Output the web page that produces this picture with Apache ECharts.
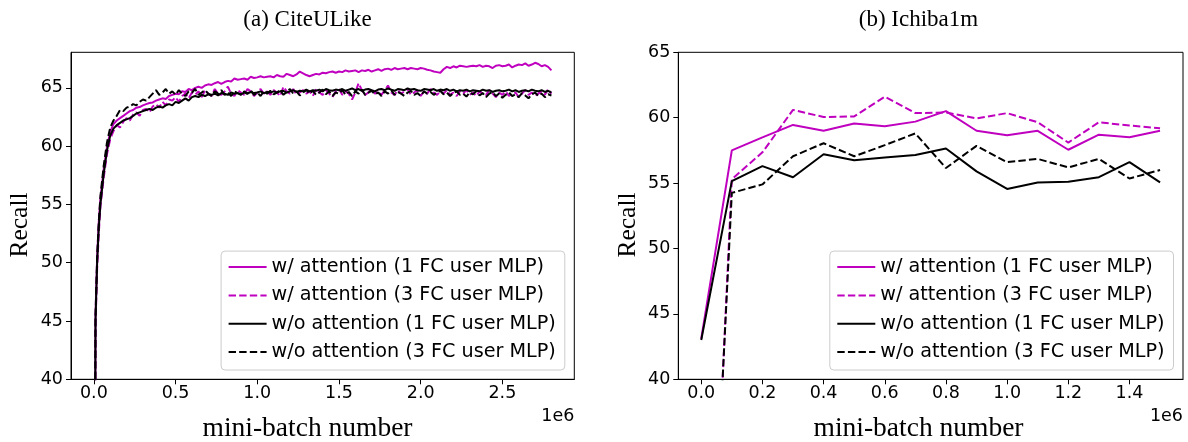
<!DOCTYPE html>
<html><head><meta charset="utf-8">
<script src="https://cdn.jsdelivr.net/npm/echarts@6/dist/echarts.min.js"></script>
<style>html,body{margin:0;padding:0;background:#fff}#c{width:1188px;height:442px}</style>
</head><body><div id="c"></div>
<script>
const seriesNames = ['w/ attention (1 FC user MLP)', 'w/ attention (3 FC user MLP)', 'w/o attention (1 FC user MLP)', 'w/o attention (3 FC user MLP)'];
const titles = ['(a) CiteULike', '(b) Ichiba1m'];
const yName = 'Recall';
const xName = 'mini-batch number';
const offsetText = '1e6';

// CiteULike: first points at these mini-batch numbers, then every 20000 up to 2.8e6
const citeEarlyX = [0, 10000, 20000, 30000, 40000, 60000, 80000, 100000];
const citeRegularStart = 120000, citeRegularStep = 20000;

const citeAtt1 = [0, 45.5, 50.5, 53.5, 55.5, 58, 59.9, 61.2,
 61.9, 62.2, 62.4, 62.6, 62.8, 63.0, 63.1, 63.3, 63.35, 63.5,
 63.6, 63.7, 63.75, 63.9, 64.0, 64.1, 64.05, 64.3, 64.4, 64.5,
 64.45, 64.7, 64.65, 64.9, 64.8, 65.0, 65.1, 65.0, 65.2, 65.3,
 65.25, 65.4, 65.5, 65.35, 65.5, 65.6, 65.55, 65.8, 65.7, 65.75,
 65.8, 65.7, 65.95, 65.85, 65.9, 66.0, 65.9, 65.95, 66.0, 65.9,
 66.1, 66.0, 65.95, 66.2, 66.1, 66.0, 66.15, 66.4, 66.25, 66.1,
 66.0, 66.1, 66.2, 66.15, 66.3, 66.25, 66.35, 66.4, 66.3, 66.4,
 66.35, 66.5, 66.4, 66.45, 66.5, 66.35, 66.5, 66.45, 66.55, 66.4,
 66.5, 66.6, 66.45, 66.6, 66.65, 66.55, 66.7, 66.6, 66.65, 66.7,
 66.6, 66.7, 66.65, 66.6, 66.7, 66.65, 66.55, 66.5, 66.4, 66.35,
 66.3, 66.6, 66.8, 66.7, 66.85, 66.75, 66.9, 66.85, 66.8, 66.85,
 66.9, 66.85, 66.95, 66.8, 66.9, 66.85, 66.7, 66.9, 66.95, 66.85,
 66.9, 67.0, 66.75, 66.9, 67.0, 66.95, 67.1, 66.9, 67.0, 67.15,
 67.05, 66.85, 66.95, 66.8, 66.5];

const citeAtt3 = [0, 44.5, 49.5, 52.5, 54.8, 57.3, 59.3, 60.6,
 61.3, 61.8, 61.6, 62.1, 62.4, 62.2, 62.7, 62.9, 62.6, 63.1,
 63.2, 62.9, 63.4, 63.6, 63.3, 63.8, 63.5, 64.0, 63.9, 64.2,
 63.8, 64.3, 64.5, 64.1, 64.6, 64.4, 64.7, 64.2, 64.8, 64.5,
 64.3, 64.9, 64.5, 64.4, 64.7, 65.1, 64.5, 64.3, 64.8, 64.6,
 64.4, 64.9, 64.7, 64.3, 64.6, 64.9, 64.5, 64.7, 64.4, 64.8,
 64.6, 64.3, 65.1, 64.7, 64.5, 64.9, 64.4, 64.6, 64.8, 64.5,
 64.7, 64.3, 64.9, 64.6, 64.4, 64.8, 64.5, 64.2, 64.7, 64.9,
 64.4, 64.7, 64.5, 64.0, 64.6, 65.4, 64.8, 64.4, 64.6, 64.9,
 64.5, 64.7, 64.4, 64.8, 65.2, 64.6, 64.4, 64.8, 64.5, 64.7,
 64.9, 64.4, 64.6, 64.8, 64.3, 64.7, 64.5, 64.9, 64.6, 64.4,
 64.7, 64.5, 64.8, 64.4, 64.6, 64.3, 64.7, 64.5, 64.8, 64.4,
 64.6, 64.3, 64.7, 64.5, 64.4, 64.8, 64.5, 64.2, 64.6, 64.4,
 64.7, 64.3, 64.5, 64.6, 64.2, 64.5, 64.8, 64.4, 64.6, 64.3,
 64.5, 64.7, 64.4, 64.9, 64.5];

const citeNoAtt1 = [0, 45, 50, 53, 55, 57.6, 59.6, 60.9,
 61.5, 61.8, 62.0, 62.2, 62.3, 62.4, 62.6, 62.8, 62.9, 63.0,
 63.1, 63.2, 63.1, 63.3, 63.4, 63.3, 63.5, 63.6, 63.5, 63.8,
 63.7, 63.9, 64.1, 63.9, 64.2, 64.3, 64.2, 64.4, 64.3, 64.45,
 64.4, 64.5, 64.35, 64.55, 64.5, 64.4, 64.6, 64.5, 64.55, 64.45,
 64.6, 64.5, 64.65, 64.55, 64.6, 64.7, 64.55, 64.65, 64.6, 64.7,
 64.6, 64.7, 64.75, 64.6, 64.7, 64.8, 64.65, 64.75, 64.7, 64.85,
 64.7, 64.8, 64.75, 64.85, 64.7, 64.9, 64.8, 64.75, 64.85, 64.8,
 64.9, 64.75, 64.85, 64.95, 64.8, 64.9, 64.75, 64.85, 64.9, 64.8,
 64.7, 64.85, 64.9, 64.8, 64.95, 64.85, 64.75, 64.9, 64.85, 64.8,
 64.95, 64.85, 64.9, 64.8, 64.75, 64.9, 64.85, 64.8, 64.9, 64.75,
 64.85, 64.8, 64.9, 64.75, 64.85, 64.7, 64.8, 64.75, 64.85, 64.7,
 64.8, 64.75, 64.7, 64.85, 64.75, 64.8, 64.65, 64.75, 64.8, 64.7,
 64.75, 64.85, 64.7, 64.8, 64.65, 64.75, 64.8, 64.7, 64.85, 64.75,
 64.7, 64.8, 64.65, 64.75, 64.6];

const citeNoAtt3 = [0, 45.5, 50.5, 53.5, 55.7, 58.3, 60.3, 61.6,
 62.2, 62.6, 63.1, 63.0, 63.3, 63.4, 63.6, 63.5, 63.8, 64.0,
 63.9, 64.2, 64.5, 64.8, 64.4, 64.6, 64.9, 64.5, 64.7, 64.4,
 64.8, 64.5, 64.3, 64.7, 64.6, 64.9, 64.4, 64.6, 64.8, 64.5,
 64.3, 64.7, 64.5, 64.8, 64.4, 64.6, 64.3, 64.7, 64.55, 64.4,
 64.7, 64.5, 64.8, 64.4, 64.6, 64.3, 64.7, 64.5, 64.75, 64.45,
 64.6, 64.8, 64.4, 64.65, 64.9, 64.5, 64.7, 64.35, 64.6, 64.8,
 64.5, 64.75, 64.4, 64.6, 64.85, 64.45, 64.7, 64.3, 64.6, 64.5,
 64.8, 64.4, 64.65, 64.3, 64.7, 64.5, 64.85, 64.4, 64.6, 64.75,
 64.45, 64.6, 64.3, 64.7, 64.5, 64.8, 64.4, 64.65, 64.5, 64.3,
 64.6, 64.75, 64.4, 64.55, 64.3, 64.7, 64.5, 64.65, 64.4, 64.6,
 64.75, 64.45, 64.6, 64.3, 64.55, 64.7, 64.4, 64.5, 64.25, 64.6,
 64.45, 64.7, 64.35, 64.55, 64.2, 64.5, 64.65, 64.3, 64.5, 64.15,
 64.4, 64.6, 64.3, 64.45, 64.2, 64.55, 64.35, 64.1, 64.45, 64.6,
 64.3, 64.5, 64.2, 64.45, 64.35];

// Ichiba1m
const ichibaX = [0, 100000, 200000, 300000, 400000, 500000, 600000, 700000, 800000, 900000, 1000000, 1100000, 1200000, 1300000, 1400000, 1500000];
const ichibaAtt1 = [43.1, 57.5, 58.5, 59.45, 59.0, 59.55, 59.35, 59.7, 60.5, 59.0, 58.65, 59.0, 57.55, 58.7, 58.5, 59.0];
const ichibaAtt3 = [4.5, 55.3, 57.35, 60.6, 60.05, 60.1, 61.6, 60.35, 60.4, 59.95, 60.35, 59.65, 58.1, 59.65, 59.4, 59.2];
const ichibaNoAtt1 = [43.0, 55.15, 56.3, 55.45, 57.2, 56.75, 56.95, 57.15, 57.65, 55.9, 54.55, 55.05, 55.1, 55.45, 56.6, 55.05];
const ichibaNoAtt3 = [7, 54.25, 54.9, 57.05, 58.05, 57.05, 57.9, 58.8, 56.15, 57.85, 56.6, 56.85, 56.2, 56.85, 55.35, 56.0];

// tick labels
const citeXTicks = [0, 500000, 1000000, 1500000, 2000000, 2500000];
const ichibaXTicks = [0, 200000, 400000, 600000, 800000, 1000000, 1200000, 1400000];
const recallTicks = [40, 45, 50, 55, 60, 65];

const MAG = '#bf00bf';
const DASH = [7.4, 3.2];
const styles = [
  {color: MAG, type: 'solid'},
  {color: MAG, type: DASH},
  {color: '#000000', type: 'solid'},
  {color: '#000000', type: DASH}
];

function citeXAt(i) {
  return i < citeEarlyX.length ? citeEarlyX[i] : citeRegularStart + (i - citeEarlyX.length) * citeRegularStep;
}
function pairsCite(vals) { return vals.map((v, i) => [citeXAt(i), v]); }
function pairsIchiba(vals) { return vals.map((v, i) => [ichibaX[i], v]); }

const citeSeries = [citeAtt1, citeAtt3, citeNoAtt1, citeNoAtt3];
const ichibaSeries = [ichibaAtt1, ichibaAtt3, ichibaNoAtt1, ichibaNoAtt3];

const TICK_FONT = {fontFamily: '"DejaVu Sans"', fontSize: 17.5, color: '#000'};
const SERIF = '"Liberation Serif", "DejaVu Serif", serif';

function xAxisCfg(grid, min, max, ticks) {
  return {
    type: 'value', gridIndex: grid, min: min, max: max,
    axisLine: {show: true, onZero: false, lineStyle: {color: '#000', width: 1}},
    axisTick: {show: true, length: 5, lineStyle: {color: '#000', width: 1}, customValues: ticks},
    axisLabel: Object.assign({customValues: ticks, margin: 5, formatter: v => (v / 1e6).toFixed(1)}, TICK_FONT),
    splitLine: {show: false}
  };
}
function yAxisCfg(grid, min, max, ticks) {
  return {
    type: 'value', gridIndex: grid, min: min, max: max,
    axisLine: {show: true, onZero: false, lineStyle: {color: '#000', width: 1}},
    axisTick: {show: true, length: 5, lineStyle: {color: '#000', width: 1}, customValues: ticks},
    axisLabel: Object.assign({customValues: ticks, margin: 8, formatter: v => String(v)}, TICK_FONT),
    splitLine: {show: false}
  };
}

const series = [];
citeSeries.forEach((vals, k) => series.push({
  type: 'line', name: seriesNames[k], xAxisIndex: 0, yAxisIndex: 0, data: pairsCite(vals),
  symbol: 'none', showSymbol: false, clip: true, animation: false,
  lineStyle: {color: styles[k].color, width: 2, type: styles[k].type},
  itemStyle: {color: styles[k].color}, emphasis: {disabled: true}
}));
ichibaSeries.forEach((vals, k) => series.push({
  type: 'line', name: seriesNames[k], xAxisIndex: 1, yAxisIndex: 1, data: pairsIchiba(vals),
  symbol: 'none', showSymbol: false, clip: true, animation: false,
  lineStyle: {color: styles[k].color, width: 2, type: styles[k].type},
  itemStyle: {color: styles[k].color}, emphasis: {disabled: true}
}));

function legendCfg(right) {
  return {
    data: seriesNames, orient: 'vertical', right: right, bottom: 72,
    itemWidth: 38, itemHeight: 14, itemGap: 8.3,
    padding: [6, 9, 8, 6.5],
    borderColor: '#cccccc', borderWidth: 1, borderRadius: 4,
    backgroundColor: 'rgba(255,255,255,0.8)',
    selectedMode: false,
    itemStyle: {opacity: 0, borderWidth: 0},
    lineStyle: {width: 2},
    textStyle: {fontFamily: '"DejaVu Sans"', fontSize: 19.2, color: '#000', lineHeight: 20}
  };
}

const G = [{left: 71, top: 52.3, width: 503.3, height: 327}, {left: 678.3, top: 52.3, width: 504.7, height: 327}];
// text centres measured on the reference (subfigure captions and labels sit a little left of the axes centre)
const textCx = [307.5, 918.5];

function txt(x, y, text, size, rot) {
  const o = {type: 'text', x: x, y: y, silent: true,
    style: {text: text, fontFamily: SERIF, fontSize: size, fill: '#000', align: 'center', verticalAlign: 'middle'}};
  if (rot) o.rotation = rot;
  return o;
}
function offTxt(x, y) {
  return {type: 'text', x: x, y: y, silent: true,
    style: {text: offsetText, fontFamily: '"DejaVu Sans"', fontSize: 17.5, fill: '#000', align: 'right', verticalAlign: 'middle'}};
}

const option = {
  animation: false,
  backgroundColor: '#fff',
  grid: G.map(g => Object.assign({show: true, borderColor: '#000', borderWidth: 1, backgroundColor: 'transparent', containLabel: false}, g)),
  xAxis: [xAxisCfg(0, -140000, 2940000, citeXTicks), xAxisCfg(1, -75000, 1575000, ichibaXTicks)],
  yAxis: [yAxisCfg(0, 40, 68.05, recallTicks), yAxisCfg(1, 40, 65, recallTicks)],
  legend: [legendCfg(1188 - (G[0].left + G[0].width) + 9.5), legendCfg(1188 - (G[1].left + G[1].width) + 9.5)],
  series: series,
  graphic: [
    txt(textCx[0], 19.5, titles[0], 23),
    txt(textCx[1], 19.5, titles[1], 23),
    txt(textCx[0], 428.5, xName, 27.5),
    txt(textCx[1], 428.5, xName, 27.5),
    txt(20, 225, yName, 25.5, Math.PI / 2),
    txt(628.3, 225, yName, 25.5, Math.PI / 2),
    offTxt(G[0].left + G[0].width, 416.5),
    offTxt(G[1].left + G[1].width, 416.5)
  ]
};

const chart = echarts.init(document.getElementById('c'), null, {renderer: 'canvas'});
chart.setOption(option);
</script>
</body></html>
